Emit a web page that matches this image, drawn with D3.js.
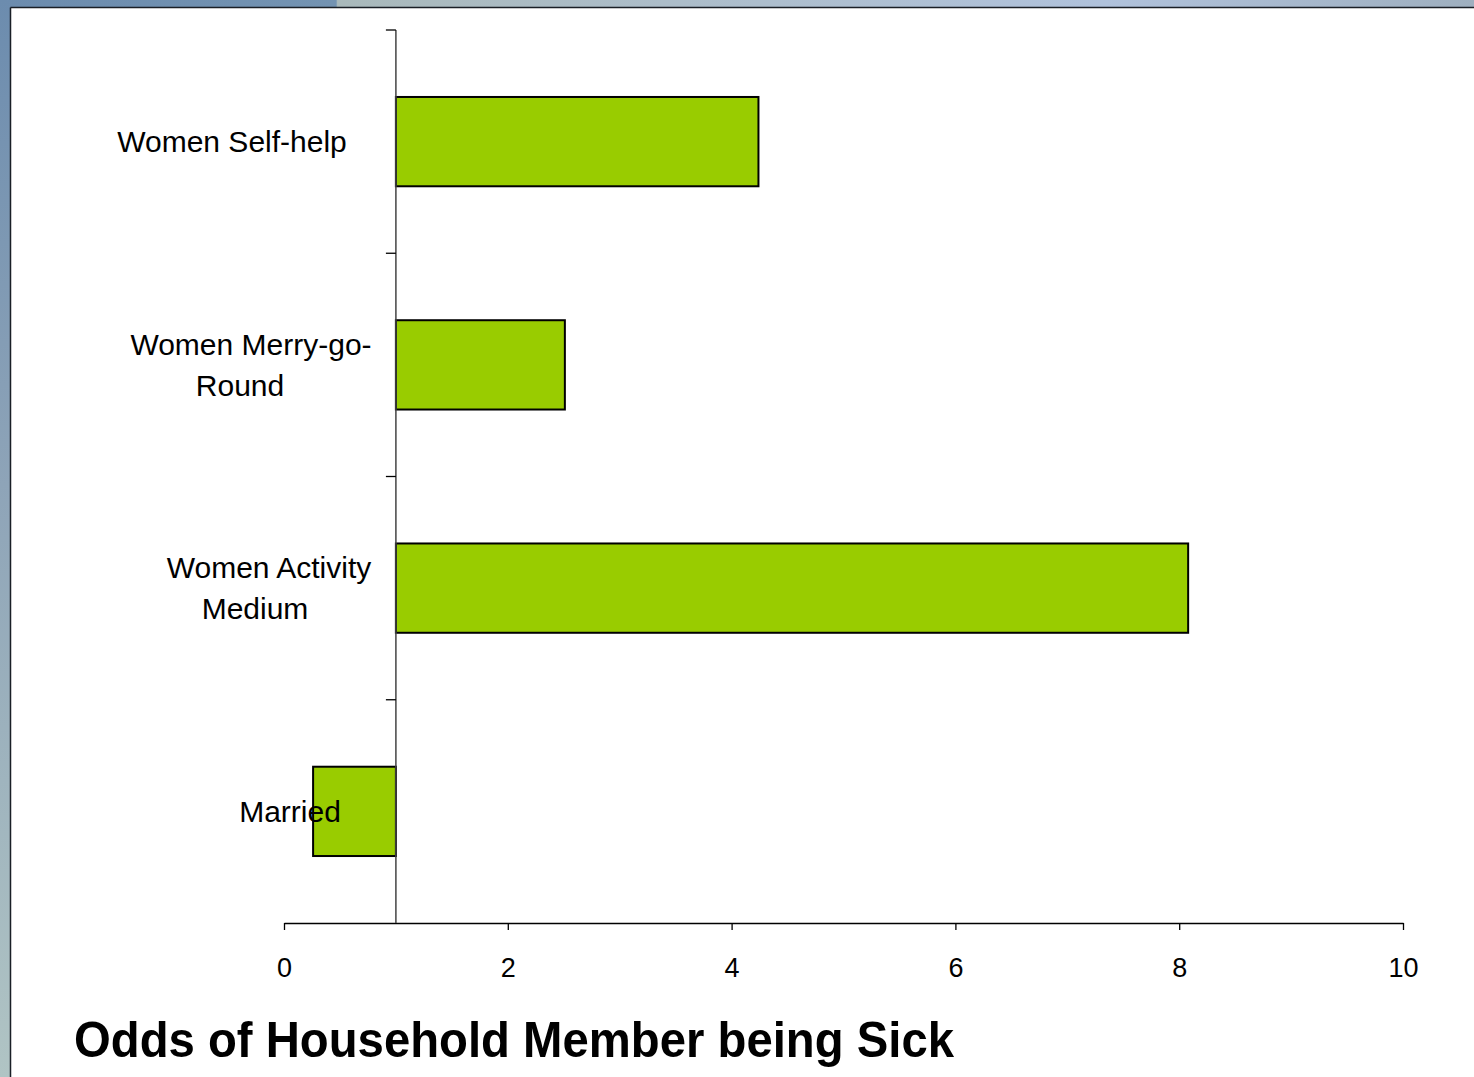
<!DOCTYPE html>
<html>
<head>
<meta charset="utf-8">
<script src="https://cdn.jsdelivr.net/npm/d3@7/dist/d3.min.js"></script>
<style>
  html, body { margin: 0; padding: 0; background: #fff; }
  svg { display: block; }
  text { font-family: "Liberation Sans", Arial, sans-serif; fill: #000; }
</style>
</head>
<body>
<svg id="chart" width="1474" height="1077"></svg>
<script>
// Odds ratios per factor (bars drawn from the reference line at 1)
const categories = ["Women Self-help", "Women Merry-go-Round", "Women Activity Medium", "Married"];
const labelLines = [["Women Self-help"], ["Women Merry-go-", "Round"], ["Women Activity", "Medium"], ["Married"]];
const oddsValues = [4.24, 2.51, 8.08, 0.26];
const xTicks = [0, 2, 4, 6, 8, 10];
const baseline = 1;
const chartTitle = "Odds of Household Member being Sick";

const svg = d3.select("#chart");
const W = 1474, H = 1077;

// Slide frame: blue gradient edge strips behind a white panel
const defs = svg.append("defs");
const topGrad = defs.append("linearGradient").attr("id", "topGrad").attr("x1", 0).attr("x2", 1).attr("y1", 0).attr("y2", 0);
topGrad.append("stop").attr("offset", "0%").attr("stop-color", "#6c8cae");
topGrad.append("stop").attr("offset", "22.8%").attr("stop-color", "#7393b2");
topGrad.append("stop").attr("offset", "22.9%").attr("stop-color", "#a9b9bb");
topGrad.append("stop").attr("offset", "75%").attr("stop-color", "#b0c2dc");
topGrad.append("stop").attr("offset", "100%").attr("stop-color", "#9eafbf");
const leftGrad = defs.append("linearGradient").attr("id", "leftGrad").attr("x1", 0).attr("x2", 0).attr("y1", 0).attr("y2", 1);
leftGrad.append("stop").attr("offset", "0%").attr("stop-color", "#6c8cae");
leftGrad.append("stop").attr("offset", "45%").attr("stop-color", "#8ea4b8");
leftGrad.append("stop").attr("offset", "100%").attr("stop-color", "#b0c4c4");

svg.append("rect").attr("x", 0).attr("y", 0).attr("width", W).attr("height", 8).attr("fill", "url(#topGrad)");
svg.append("rect").attr("x", 0).attr("y", 0).attr("width", 11).attr("height", H).attr("fill", "url(#leftGrad)");
svg.append("rect").attr("x", 11).attr("y", 8).attr("width", W - 11).attr("height", H - 8).attr("fill", "#fff");
svg.append("line").attr("x1", 10.5).attr("x2", 10.5).attr("y1", 7.5).attr("y2", H).attr("stroke", "#1a1f26").attr("stroke-width", 1.5);
svg.append("line").attr("x1", 10.5).attr("x2", W).attr("y1", 7.5).attr("y2", 7.5).attr("stroke", "#1a1f26").attr("stroke-width", 1.5);

// Plot geometry
const plot = { left: 284, right: 1403, top: 30, bottom: 923 };

const x = d3.scaleLinear().domain([0, 10]).range([plot.left, plot.right]);
const y = d3.scaleBand().domain(categories).range([plot.top, plot.bottom])
  .paddingInner(0.6).paddingOuter(0.3);

// Bars, anchored at the odds = 1 line
svg.append("g").selectAll("rect")
  .data(categories.map((c, i) => ({ c, v: oddsValues[i] })))
  .join("rect")
  .attr("x", d => x(Math.min(d.v, baseline)))
  .attr("y", d => y(d.c))
  .attr("width", d => Math.abs(x(d.v) - x(baseline)))
  .attr("height", y.bandwidth())
  .attr("fill", "#99cc00")
  .attr("stroke", "#000")
  .attr("stroke-width", 2);

// X axis along the bottom
const xAxis = svg.append("g")
  .attr("transform", `translate(0,${plot.bottom})`)
  .call(d3.axisBottom(x).tickValues(xTicks).tickSize(7).tickSizeOuter(0).tickPadding(28));
xAxis.select(".domain").attr("stroke", "#000").attr("stroke-width", 1.3);
xAxis.selectAll(".tick line").attr("stroke", "#000").attr("stroke-width", 1.3);
xAxis.selectAll(".tick text")
  .style("font-family", "'Liberation Sans', Arial, sans-serif")
  .style("font-size", "27px").attr("fill", "#000");

// Category axis crossing at odds = 1, with tick marks between categories
const yAxisX = x(baseline);
const yg = svg.append("g");
yg.append("line")
  .attr("x1", yAxisX).attr("x2", yAxisX)
  .attr("y1", plot.top).attr("y2", plot.bottom)
  .attr("stroke", "#444").attr("stroke-width", 1.5);
const boundaries = categories.map(c => y(c) - y.step() * 0.3);
yg.selectAll("line.tk")
  .data(boundaries)
  .join("line").attr("class", "tk")
  .attr("x1", yAxisX - 10).attr("x2", yAxisX)
  .attr("y1", d => d).attr("y2", d => d)
  .attr("stroke", "#000").attr("stroke-width", 1.3);

// Category labels, wrapped and centred to the left of the axis
const labelCentres = [[232], [251, 240], [269, 255], [290]];
const lineGap = 41;
categories.forEach((c, i) => {
  const lines = labelLines[i];
  const mid = y(c) + y.bandwidth() / 2;
  const firstY = mid - (lines.length - 1) * lineGap / 2;
  lines.forEach((ln, j) => {
    svg.append("text")
      .attr("x", labelCentres[i][j])
      .attr("y", firstY + j * lineGap)
      .attr("dy", "0.36em")
      .attr("text-anchor", "middle")
      .style("font-size", "30px")
      .text(ln);
  });
});

// Title under the chart
svg.append("text")
  .attr("x", 74)
  .attr("y", 1057)
  .attr("textLength", 880)
  .attr("lengthAdjust", "spacingAndGlyphs")
  .style("font-size", "50px")
  .style("font-weight", "bold")
  .text(chartTitle);
</script>
</body>
</html>
